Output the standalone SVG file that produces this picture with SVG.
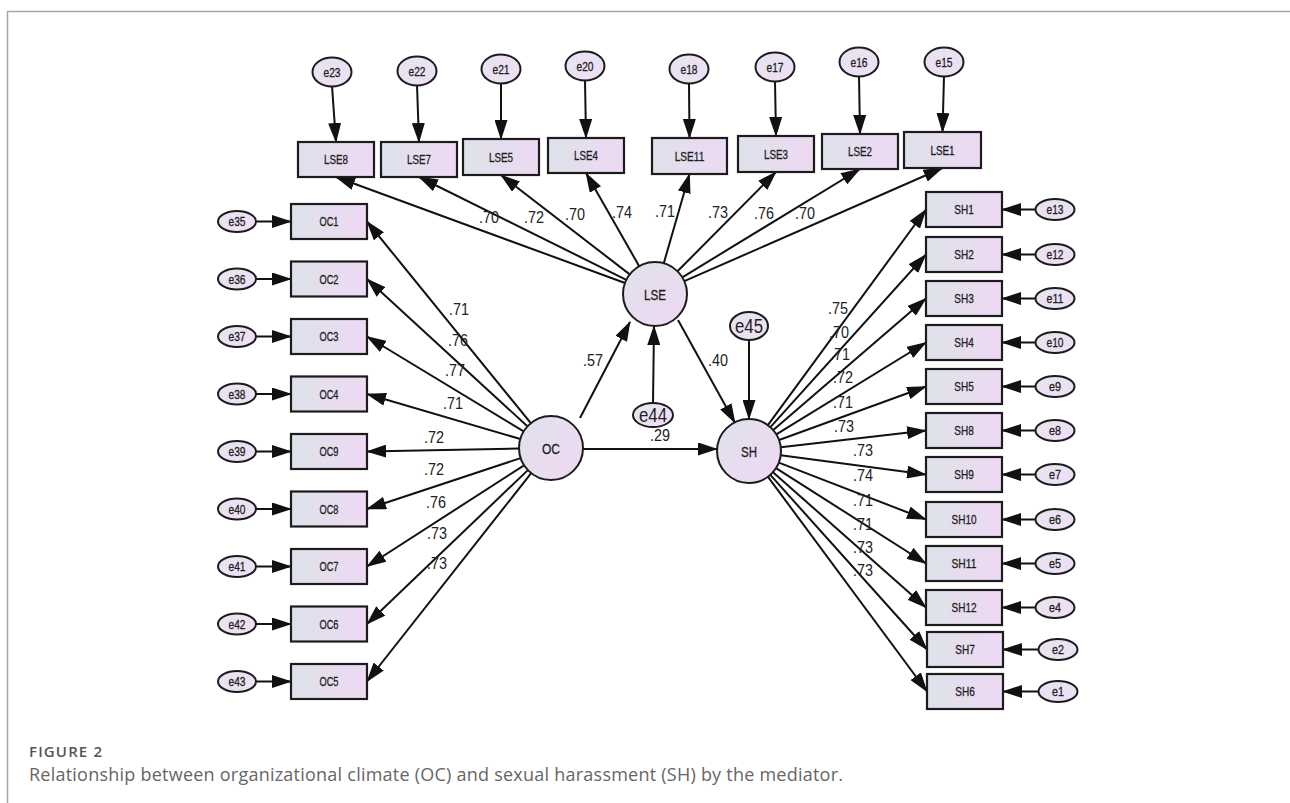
<svg xmlns="http://www.w3.org/2000/svg" width="1290" height="803" viewBox="0 0 1290 803">
<defs>
<linearGradient id="gBox" x1="0" y1="0" x2="1" y2="0">
<stop offset="0" stop-color="#dde2ea"/>
<stop offset="1" stop-color="#efd9f3"/>
</linearGradient>
<linearGradient id="gLat" x1="0" y1="0" x2="1" y2="1">
<stop offset="0" stop-color="#dfe2ec"/>
<stop offset="1" stop-color="#f0d8f3"/>
</linearGradient>
<linearGradient id="gErr" x1="0" y1="0" x2="1" y2="1">
<stop offset="0" stop-color="#e6e4f0"/>
<stop offset="1" stop-color="#efdef5"/>
</linearGradient>
<marker id="ah" viewBox="0 0 20 13" refX="19" refY="6.5" markerWidth="20" markerHeight="13" markerUnits="userSpaceOnUse" orient="auto">
<path d="M0,0 L20,6.5 L0,13 z" fill="#111"/>
</marker>
</defs>
<style>
.box{fill:url(#gBox);stroke:#1c1c1c;stroke-width:2.2}
.lat{fill:url(#gLat);stroke:#1c1c1c;stroke-width:2}
.err{fill:url(#gErr);stroke:#1c1c1c;stroke-width:2}
.lbl{font-family:"Liberation Sans",Arial,sans-serif;font-size:12.5px;fill:#1e1e1e;stroke:#1e1e1e;stroke-width:0.3;text-anchor:middle}
.lt{font-family:"Liberation Sans",Arial,sans-serif;font-size:15px;fill:#1e1e1e;stroke:#1e1e1e;stroke-width:0.3;text-anchor:middle}
.big{font-family:"Liberation Sans",Arial,sans-serif;font-size:20px;fill:#222;text-anchor:middle}
.num{font-family:"Liberation Sans",Arial,sans-serif;font-size:17px;fill:#222;text-anchor:middle}
.con line{stroke:#111;stroke-width:2;marker-end:url(#ah)}
.frame{stroke:#a6a6a6;stroke-width:1.5;fill:none}
.fig{font-family:"Open Sans","Noto Sans",sans-serif;font-size:15px;font-weight:600;fill:#555}
.cap{font-family:"Open Sans","Noto Sans",sans-serif;font-size:18px;fill:#666}
</style>
<rect width="1290" height="803" fill="#ffffff"/>
<path class="frame" d="M7.5,803 L7.5,11.5 L1290,11.5"/>

<g id="connectors" class="con">
<line x1="332" y1="86" x2="336" y2="142"/>
<line x1="417" y1="85" x2="419" y2="142"/>
<line x1="501" y1="83" x2="501" y2="139"/>
<line x1="585" y1="80" x2="586" y2="138"/>
<line x1="689" y1="83" x2="689.5" y2="138"/>
<line x1="775" y1="81" x2="776" y2="136"/>
<line x1="859" y1="76" x2="860" y2="134"/>
<line x1="944" y1="76" x2="942.5" y2="132"/>
<line x1="625" y1="283" x2="336" y2="177"/>
<line x1="626.3" y1="279.8" x2="419" y2="177"/>
<line x1="629.7" y1="274.4" x2="501" y2="175"/>
<line x1="639.2" y1="266.2" x2="586" y2="173"/>
<line x1="663.8" y1="263.2" x2="689.5" y2="174"/>
<line x1="677.5" y1="271.3" x2="776" y2="172"/>
<line x1="682.3" y1="277.3" x2="860" y2="169"/>
<line x1="684.3" y1="281.2" x2="942.5" y2="168"/>
<line x1="530.8" y1="423.2" x2="367" y2="221.5"/>
<line x1="527.4" y1="426.3" x2="367" y2="279"/>
<line x1="523.6" y1="431.4" x2="367" y2="336.5"/>
<line x1="520.3" y1="439" x2="367" y2="394"/>
<line x1="519" y1="448.6" x2="367" y2="451.5"/>
<line x1="520.6" y1="458.1" x2="367" y2="509"/>
<line x1="524.1" y1="465.3" x2="367" y2="566.5"/>
<line x1="527.9" y1="470.1" x2="367" y2="624"/>
<line x1="531.2" y1="473.1" x2="367" y2="681.5"/>
<line x1="256" y1="221.5" x2="291" y2="221.5"/>
<line x1="256" y1="279" x2="291" y2="279"/>
<line x1="256" y1="336.5" x2="291" y2="336.5"/>
<line x1="256" y1="394" x2="291" y2="394"/>
<line x1="256" y1="451.5" x2="291" y2="451.5"/>
<line x1="256" y1="509" x2="291" y2="509"/>
<line x1="256" y1="566.5" x2="291" y2="566.5"/>
<line x1="256" y1="624" x2="291" y2="624"/>
<line x1="256" y1="681.5" x2="291" y2="681.5"/>
<line x1="767.9" y1="425.2" x2="926" y2="209.5"/>
<line x1="770.4" y1="427.2" x2="926" y2="254.5"/>
<line x1="773.3" y1="430.1" x2="926" y2="298.5"/>
<line x1="776.3" y1="434.3" x2="926" y2="342.5"/>
<line x1="779.1" y1="440" x2="926" y2="386.5"/>
<line x1="780.8" y1="447.3" x2="926" y2="430.5"/>
<line x1="780.7" y1="455.2" x2="926" y2="474.5"/>
<line x1="778.8" y1="462.6" x2="926" y2="519.5"/>
<line x1="776" y1="468.2" x2="926" y2="563.5"/>
<line x1="773" y1="472.2" x2="926" y2="607.5"/>
<line x1="770.3" y1="474.9" x2="927" y2="649.5"/>
<line x1="768" y1="476.8" x2="927" y2="691.5"/>
<line x1="1035.5" y1="209.5" x2="1002" y2="209.5"/>
<line x1="1035.5" y1="254.5" x2="1002" y2="254.5"/>
<line x1="1035.5" y1="298.5" x2="1002" y2="298.5"/>
<line x1="1035.5" y1="342.5" x2="1002" y2="342.5"/>
<line x1="1035.5" y1="386.5" x2="1002" y2="386.5"/>
<line x1="1035.5" y1="430.5" x2="1002" y2="430.5"/>
<line x1="1035.5" y1="474.5" x2="1002" y2="474.5"/>
<line x1="1035.5" y1="519.5" x2="1002" y2="519.5"/>
<line x1="1035.5" y1="563.5" x2="1002" y2="563.5"/>
<line x1="1035.5" y1="607.5" x2="1002" y2="607.5"/>
<line x1="1038.5" y1="649.5" x2="1003" y2="649.5"/>
<line x1="1038.5" y1="691.5" x2="1003" y2="691.5"/>
<line x1="580" y1="418" x2="630" y2="322"/>
<line x1="678" y1="320" x2="735" y2="423"/>
<line x1="583" y1="449" x2="717" y2="449"/>
<line x1="653" y1="403" x2="654" y2="326"/>
<line x1="749" y1="340" x2="749" y2="419"/>
</g>

<g id="labels">
<text class="num" x="489" y="223" textLength="20" lengthAdjust="spacingAndGlyphs">.70</text>
<text class="num" x="534" y="223" textLength="20" lengthAdjust="spacingAndGlyphs">.72</text>
<text class="num" x="575" y="220" textLength="20" lengthAdjust="spacingAndGlyphs">.70</text>
<text class="num" x="622" y="218" textLength="20" lengthAdjust="spacingAndGlyphs">.74</text>
<text class="num" x="665" y="217" textLength="20" lengthAdjust="spacingAndGlyphs">.71</text>
<text class="num" x="718" y="218" textLength="20" lengthAdjust="spacingAndGlyphs">.73</text>
<text class="num" x="764" y="219" textLength="20" lengthAdjust="spacingAndGlyphs">.76</text>
<text class="num" x="805" y="219" textLength="20" lengthAdjust="spacingAndGlyphs">.70</text>
<text class="num" x="459" y="315" textLength="20" lengthAdjust="spacingAndGlyphs">.71</text>
<text class="num" x="458" y="346" textLength="20" lengthAdjust="spacingAndGlyphs">.76</text>
<text class="num" x="455" y="376" textLength="20" lengthAdjust="spacingAndGlyphs">.77</text>
<text class="num" x="453" y="409" textLength="20" lengthAdjust="spacingAndGlyphs">.71</text>
<text class="num" x="434" y="443" textLength="20" lengthAdjust="spacingAndGlyphs">.72</text>
<text class="num" x="434" y="475" textLength="20" lengthAdjust="spacingAndGlyphs">.72</text>
<text class="num" x="436" y="508" textLength="20" lengthAdjust="spacingAndGlyphs">.76</text>
<text class="num" x="437" y="539" textLength="20" lengthAdjust="spacingAndGlyphs">.73</text>
<text class="num" x="437" y="569" textLength="20" lengthAdjust="spacingAndGlyphs">.73</text>
<text class="num" x="838" y="314" textLength="20" lengthAdjust="spacingAndGlyphs">.75</text>
<text class="num" x="839" y="338" textLength="20" lengthAdjust="spacingAndGlyphs">.70</text>
<text class="num" x="840" y="360" textLength="20" lengthAdjust="spacingAndGlyphs">.71</text>
<text class="num" x="843" y="383" textLength="20" lengthAdjust="spacingAndGlyphs">.72</text>
<text class="num" x="843" y="408" textLength="20" lengthAdjust="spacingAndGlyphs">.71</text>
<text class="num" x="844" y="432" textLength="20" lengthAdjust="spacingAndGlyphs">.73</text>
<text class="num" x="863" y="456" textLength="20" lengthAdjust="spacingAndGlyphs">.73</text>
<text class="num" x="863" y="481" textLength="20" lengthAdjust="spacingAndGlyphs">.74</text>
<text class="num" x="863" y="506" textLength="20" lengthAdjust="spacingAndGlyphs">.71</text>
<text class="num" x="863" y="530" textLength="20" lengthAdjust="spacingAndGlyphs">.71</text>
<text class="num" x="863" y="553" textLength="20" lengthAdjust="spacingAndGlyphs">.73</text>
<text class="num" x="863" y="576" textLength="20" lengthAdjust="spacingAndGlyphs">.73</text>
<text class="num" x="593" y="366" textLength="20" lengthAdjust="spacingAndGlyphs">.57</text>
<text class="num" x="718" y="366" textLength="20" lengthAdjust="spacingAndGlyphs">.40</text>
<text class="num" x="660" y="441" textLength="20" lengthAdjust="spacingAndGlyphs">.29</text>
</g>

<g id="LSE"><circle class="lat" cx="655" cy="294" r="32"/><text class="lt" x="655" y="299.5" textLength="22" lengthAdjust="spacingAndGlyphs">LSE</text></g>
<g id="OC"><circle class="lat" cx="551" cy="448" r="32"/><text class="lt" x="551" y="453.5" textLength="18" lengthAdjust="spacingAndGlyphs">OC</text></g>
<g id="SH"><circle class="lat" cx="749" cy="451" r="32"/><text class="lt" x="749" y="456.5" textLength="16" lengthAdjust="spacingAndGlyphs">SH</text></g>
<g id="e44"><ellipse class="err" cx="653" cy="415" rx="20" ry="12"/><text class="big" x="653" y="422" textLength="28" lengthAdjust="spacingAndGlyphs">e44</text></g>
<g id="e45"><ellipse class="err" cx="749" cy="326" rx="19" ry="14"/><text class="big" x="749" y="333" textLength="28" lengthAdjust="spacingAndGlyphs">e45</text></g>

<g id="LSE8"><rect class="box" x="298" y="142" width="76" height="35"/><text class="lbl" x="336" y="164" textLength="24" lengthAdjust="spacingAndGlyphs">LSE8</text></g>
<g id="LSE7"><rect class="box" x="381" y="142" width="76" height="35"/><text class="lbl" x="419" y="164" textLength="24" lengthAdjust="spacingAndGlyphs">LSE7</text></g>
<g id="LSE5"><rect class="box" x="463" y="139" width="76" height="36"/><text class="lbl" x="501" y="161.5" textLength="24" lengthAdjust="spacingAndGlyphs">LSE5</text></g>
<g id="LSE4"><rect class="box" x="548" y="138" width="76" height="35"/><text class="lbl" x="586" y="160" textLength="24" lengthAdjust="spacingAndGlyphs">LSE4</text></g>
<g id="LSE11"><rect class="box" x="652" y="138" width="75" height="36"/><text class="lbl" x="689.5" y="160.5" textLength="29.5" lengthAdjust="spacingAndGlyphs">LSE11</text></g>
<g id="LSE3"><rect class="box" x="738" y="136" width="76" height="36"/><text class="lbl" x="776" y="158.5" textLength="24" lengthAdjust="spacingAndGlyphs">LSE3</text></g>
<g id="LSE2"><rect class="box" x="822" y="134" width="76" height="35"/><text class="lbl" x="860" y="156" textLength="24" lengthAdjust="spacingAndGlyphs">LSE2</text></g>
<g id="LSE1"><rect class="box" x="904" y="132" width="77" height="36"/><text class="lbl" x="942.5" y="154.5" textLength="24" lengthAdjust="spacingAndGlyphs">LSE1</text></g>

<g id="e23"><ellipse class="err" cx="332" cy="72" rx="19.5" ry="14.5"/><text class="lbl" x="332" y="76.5" textLength="17" lengthAdjust="spacingAndGlyphs">e23</text></g>
<g id="e22"><ellipse class="err" cx="417" cy="71" rx="19.5" ry="14.5"/><text class="lbl" x="417" y="75.5" textLength="17" lengthAdjust="spacingAndGlyphs">e22</text></g>
<g id="e21"><ellipse class="err" cx="501" cy="69" rx="19.5" ry="14.5"/><text class="lbl" x="501" y="73.5" textLength="17" lengthAdjust="spacingAndGlyphs">e21</text></g>
<g id="e20"><ellipse class="err" cx="585" cy="66" rx="19.5" ry="14.5"/><text class="lbl" x="585" y="70.5" textLength="17" lengthAdjust="spacingAndGlyphs">e20</text></g>
<g id="e18"><ellipse class="err" cx="689" cy="69" rx="19.5" ry="14.5"/><text class="lbl" x="689" y="73.5" textLength="17" lengthAdjust="spacingAndGlyphs">e18</text></g>
<g id="e17"><ellipse class="err" cx="775" cy="67" rx="19.5" ry="14.5"/><text class="lbl" x="775" y="71.5" textLength="17" lengthAdjust="spacingAndGlyphs">e17</text></g>
<g id="e16"><ellipse class="err" cx="859" cy="62" rx="19.5" ry="14.5"/><text class="lbl" x="859" y="66.5" textLength="17" lengthAdjust="spacingAndGlyphs">e16</text></g>
<g id="e15"><ellipse class="err" cx="944" cy="62" rx="19.5" ry="14.5"/><text class="lbl" x="944" y="66.5" textLength="17" lengthAdjust="spacingAndGlyphs">e15</text></g>

<g id="OC1"><rect class="box" x="291" y="204" width="76" height="35"/><text class="lbl" x="329" y="226" textLength="19" lengthAdjust="spacingAndGlyphs">OC1</text></g>
<g id="OC2"><rect class="box" x="291" y="261.5" width="76" height="35"/><text class="lbl" x="329" y="283.5" textLength="19" lengthAdjust="spacingAndGlyphs">OC2</text></g>
<g id="OC3"><rect class="box" x="291" y="319" width="76" height="35"/><text class="lbl" x="329" y="341" textLength="19" lengthAdjust="spacingAndGlyphs">OC3</text></g>
<g id="OC4"><rect class="box" x="291" y="376.5" width="76" height="35"/><text class="lbl" x="329" y="398.5" textLength="19" lengthAdjust="spacingAndGlyphs">OC4</text></g>
<g id="OC9"><rect class="box" x="291" y="434" width="76" height="35"/><text class="lbl" x="329" y="456" textLength="19" lengthAdjust="spacingAndGlyphs">OC9</text></g>
<g id="OC8"><rect class="box" x="291" y="491.5" width="76" height="35"/><text class="lbl" x="329" y="513.5" textLength="19" lengthAdjust="spacingAndGlyphs">OC8</text></g>
<g id="OC7"><rect class="box" x="291" y="549" width="76" height="35"/><text class="lbl" x="329" y="571" textLength="19" lengthAdjust="spacingAndGlyphs">OC7</text></g>
<g id="OC6"><rect class="box" x="291" y="606.5" width="76" height="35"/><text class="lbl" x="329" y="628.5" textLength="19" lengthAdjust="spacingAndGlyphs">OC6</text></g>
<g id="OC5"><rect class="box" x="291" y="664" width="76" height="35"/><text class="lbl" x="329" y="686" textLength="19" lengthAdjust="spacingAndGlyphs">OC5</text></g>

<g id="e35"><ellipse class="err" cx="237" cy="221.5" rx="19" ry="10.5"/><text class="lbl" x="237" y="226" textLength="17" lengthAdjust="spacingAndGlyphs">e35</text></g>
<g id="e36"><ellipse class="err" cx="237" cy="279" rx="19" ry="10.5"/><text class="lbl" x="237" y="283.5" textLength="17" lengthAdjust="spacingAndGlyphs">e36</text></g>
<g id="e37"><ellipse class="err" cx="237" cy="336.5" rx="19" ry="10.5"/><text class="lbl" x="237" y="341" textLength="17" lengthAdjust="spacingAndGlyphs">e37</text></g>
<g id="e38"><ellipse class="err" cx="237" cy="394" rx="19" ry="10.5"/><text class="lbl" x="237" y="398.5" textLength="17" lengthAdjust="spacingAndGlyphs">e38</text></g>
<g id="e39"><ellipse class="err" cx="237" cy="451.5" rx="19" ry="10.5"/><text class="lbl" x="237" y="456" textLength="17" lengthAdjust="spacingAndGlyphs">e39</text></g>
<g id="e40"><ellipse class="err" cx="237" cy="509" rx="19" ry="10.5"/><text class="lbl" x="237" y="513.5" textLength="17" lengthAdjust="spacingAndGlyphs">e40</text></g>
<g id="e41"><ellipse class="err" cx="237" cy="566.5" rx="19" ry="10.5"/><text class="lbl" x="237" y="571" textLength="17" lengthAdjust="spacingAndGlyphs">e41</text></g>
<g id="e42"><ellipse class="err" cx="237" cy="624" rx="19" ry="10.5"/><text class="lbl" x="237" y="628.5" textLength="17" lengthAdjust="spacingAndGlyphs">e42</text></g>
<g id="e43"><ellipse class="err" cx="237" cy="681.5" rx="19" ry="10.5"/><text class="lbl" x="237" y="686" textLength="17" lengthAdjust="spacingAndGlyphs">e43</text></g>

<g id="SH1"><rect class="box" x="926" y="192" width="76" height="35"/><text class="lbl" x="964" y="214" textLength="19.5" lengthAdjust="spacingAndGlyphs">SH1</text></g>
<g id="SH2"><rect class="box" x="926" y="237" width="76" height="35"/><text class="lbl" x="964" y="259" textLength="19.5" lengthAdjust="spacingAndGlyphs">SH2</text></g>
<g id="SH3"><rect class="box" x="926" y="281" width="76" height="35"/><text class="lbl" x="964" y="303" textLength="19.5" lengthAdjust="spacingAndGlyphs">SH3</text></g>
<g id="SH4"><rect class="box" x="926" y="325" width="76" height="35"/><text class="lbl" x="964" y="347" textLength="19.5" lengthAdjust="spacingAndGlyphs">SH4</text></g>
<g id="SH5"><rect class="box" x="926" y="369" width="76" height="35"/><text class="lbl" x="964" y="391" textLength="19.5" lengthAdjust="spacingAndGlyphs">SH5</text></g>
<g id="SH8"><rect class="box" x="926" y="413" width="76" height="35"/><text class="lbl" x="964" y="435" textLength="19.5" lengthAdjust="spacingAndGlyphs">SH8</text></g>
<g id="SH9"><rect class="box" x="926" y="457" width="76" height="35"/><text class="lbl" x="964" y="479" textLength="19.5" lengthAdjust="spacingAndGlyphs">SH9</text></g>
<g id="SH10"><rect class="box" x="926" y="502" width="76" height="35"/><text class="lbl" x="964" y="524" textLength="25" lengthAdjust="spacingAndGlyphs">SH10</text></g>
<g id="SH11"><rect class="box" x="926" y="546" width="76" height="35"/><text class="lbl" x="964" y="568" textLength="25" lengthAdjust="spacingAndGlyphs">SH11</text></g>
<g id="SH12"><rect class="box" x="926" y="590" width="76" height="35"/><text class="lbl" x="964" y="612" textLength="25" lengthAdjust="spacingAndGlyphs">SH12</text></g>
<g id="SH7"><rect class="box" x="927" y="632" width="76" height="35"/><text class="lbl" x="965" y="654" textLength="19.5" lengthAdjust="spacingAndGlyphs">SH7</text></g>
<g id="SH6"><rect class="box" x="927" y="674" width="76" height="35"/><text class="lbl" x="965" y="696" textLength="19.5" lengthAdjust="spacingAndGlyphs">SH6</text></g>

<g id="e13"><ellipse class="err" cx="1055" cy="209.5" rx="19.5" ry="10.5"/><text class="lbl" x="1055" y="214" textLength="17" lengthAdjust="spacingAndGlyphs">e13</text></g>
<g id="e12"><ellipse class="err" cx="1055" cy="254.5" rx="19.5" ry="10.5"/><text class="lbl" x="1055" y="259" textLength="17" lengthAdjust="spacingAndGlyphs">e12</text></g>
<g id="e11"><ellipse class="err" cx="1055" cy="298.5" rx="19.5" ry="10.5"/><text class="lbl" x="1055" y="303" textLength="17" lengthAdjust="spacingAndGlyphs">e11</text></g>
<g id="e10"><ellipse class="err" cx="1055" cy="342.5" rx="19.5" ry="10.5"/><text class="lbl" x="1055" y="347" textLength="17" lengthAdjust="spacingAndGlyphs">e10</text></g>
<g id="e9"><ellipse class="err" cx="1055" cy="386.5" rx="19.5" ry="10.5"/><text class="lbl" x="1055" y="391" textLength="12" lengthAdjust="spacingAndGlyphs">e9</text></g>
<g id="e8"><ellipse class="err" cx="1055" cy="430.5" rx="19.5" ry="10.5"/><text class="lbl" x="1055" y="435" textLength="12" lengthAdjust="spacingAndGlyphs">e8</text></g>
<g id="e7"><ellipse class="err" cx="1055" cy="474.5" rx="19.5" ry="10.5"/><text class="lbl" x="1055" y="479" textLength="12" lengthAdjust="spacingAndGlyphs">e7</text></g>
<g id="e6"><ellipse class="err" cx="1055" cy="519.5" rx="19.5" ry="10.5"/><text class="lbl" x="1055" y="524" textLength="12" lengthAdjust="spacingAndGlyphs">e6</text></g>
<g id="e5"><ellipse class="err" cx="1055" cy="563.5" rx="19.5" ry="10.5"/><text class="lbl" x="1055" y="568" textLength="12" lengthAdjust="spacingAndGlyphs">e5</text></g>
<g id="e4"><ellipse class="err" cx="1055" cy="607.5" rx="19.5" ry="10.5"/><text class="lbl" x="1055" y="612" textLength="12" lengthAdjust="spacingAndGlyphs">e4</text></g>
<g id="e2"><ellipse class="err" cx="1058" cy="649.5" rx="19.5" ry="10.5"/><text class="lbl" x="1058" y="654" textLength="12" lengthAdjust="spacingAndGlyphs">e2</text></g>
<g id="e1"><ellipse class="err" cx="1058" cy="691.5" rx="19.5" ry="10.5"/><text class="lbl" x="1058" y="696" textLength="12" lengthAdjust="spacingAndGlyphs">e1</text></g>

<g id="caption">
<text class="fig" x="29" y="757" textLength="73" lengthAdjust="spacing">FIGURE 2</text>
<text class="cap" x="29" y="781" textLength="814" lengthAdjust="spacing">Relationship between organizational climate (OC) and sexual harassment (SH) by the mediator.</text>
</g>
</svg>
